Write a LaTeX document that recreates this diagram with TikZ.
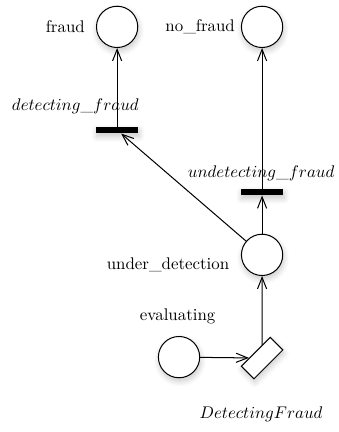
\documentclass[tikz,border=0pt]{standalone}
\usepackage{tikz}
\usetikzlibrary{arrows.meta,shadows.blur}

\tikzset{
  soft/.style={blur shadow={shadow xshift=0.2mm, shadow yshift=-0.7mm, shadow blur radius=1.2mm,
    shadow blur steps=8, shadow opacity=22}},
  place/.style={circle, draw, line width=0.6pt, fill=white, minimum size=8.6mm, inner sep=0pt, soft},
  bar/.style={rectangle, fill=black, minimum width=8.8mm, minimum height=1.3mm, inner sep=0pt, soft},
  subnet/.style={rectangle, draw, line width=0.6pt, fill=white, minimum width=8.5mm, minimum height=3.7mm,
    inner sep=0pt, rotate=45, soft},
  arc/.style={line width=0.6pt, -{Straight Barb[length=2.4mm,width=1.9mm]}},
  tag/.style={inner sep=0pt}
}

\begin{document}
\begin{tikzpicture}
			%%%%% START %%%%%
			\useasboundingbox (0, 0) rectangle (7.042, 9.0);
			
			% places
			\node[place] (fraud) at (2.44, 8.44) {};
			\node[place] (nofraud) at (5.46, 8.44) {};
			\node[place] (underdet) at (5.46, 3.69) {};
			\node[place] (evaluating) at (3.73, 1.56) {};
			
			% transitions
			\node[bar] (detfraud) at (2.44, 6.29) {};
			\node[bar] (undetfraud) at (5.46, 5.0) {};
			\node[subnet] (detecting) at (5.46, 1.54) {};
			
			% labels
			\node[tag] (fraudtxt) at (1.36, 8.44) {fraud};
			\node[tag] (nofraudtxt) at (4.17, 8.44) {no\_fraud};
			\node[tag] (underdettxt) at (3.5, 3.48) {under\_detection};
			\node[tag] (evaluatingtxt) at (3.70, 2.40) {evaluating};
			\node[tag] (detfraudtxt) at (1.57, 6.79) {$detecting\_fraud$};
			\node[tag] (undetfraudtxt) at (5.44, 5.40) {$undetecting\_fraud$};
			\node[tag] (detectingtxt) at (5.44, 0.36) {$DetectingFraud$};
			
			% arcs
			\draw[arc] (evaluating) -- (detecting);
			\draw[arc] (detecting) -- (underdet);
			\draw[arc] (underdet) -- (undetfraud);
			\draw[arc] (undetfraud) -- (nofraud);
			\draw[arc] (underdet) -- (detfraud);
			\draw[arc] (detfraud) -- (fraud);
			
			%%%%% END %%%%%
\end{tikzpicture}
\end{document}
